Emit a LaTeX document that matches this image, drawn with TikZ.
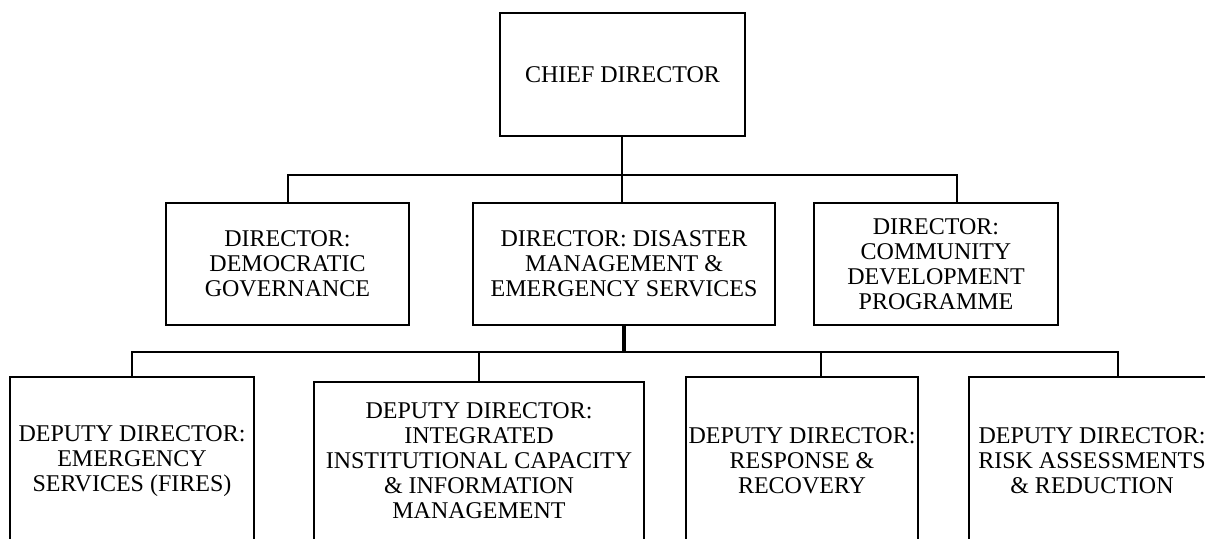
\documentclass[tikz,border=0pt]{standalone}
\usepackage{fontspec}
\setmainfont{Liberation Serif}
\begin{document}
\begin{tikzpicture}[x=0.5pt, y=-0.5pt, every node/.style={font=\fontsize{12}{12.5}\selectfont},
  box/.style={draw, line width=1.2pt, inner sep=0pt, align=center},
  link/.style={line width=1pt},
  trunk/.style={line width=2pt}]
  \useasboundingbox (0,0) rectangle (1205,539);
  \clip (0,0) rectangle (1205,539);
  \node[box, minimum width=122.5pt, minimum height=61.5pt] (chief) at (622.5,74.5) {CHIEF DIRECTOR};
  \node[box, minimum width=121.5pt, minimum height=61pt] (dg) at (287.5,264) {DIRECTOR:\\DEMOCRATIC\\GOVERNANCE};
  \node[box, minimum width=151pt, minimum height=61pt] (dm) at (624,264) {DIRECTOR: DISASTER\\MANAGEMENT \&\\EMERGENCY SERVICES};
  \node[box, minimum width=122pt, minimum height=61pt] (cd) at (936,264) {DIRECTOR:\\COMMUNITY\\DEVELOPMENT\\PROGRAMME};
  \node[box, minimum width=122pt, minimum height=84pt] (es) at (132,461) {DEPUTY DIRECTOR:\\EMERGENCY\\SERVICES (FIRES)};
  \node[box, minimum width=165pt, minimum height=79pt] (ii) at (479,461) {DEPUTY DIRECTOR:\\INTEGRATED\\INSTITUTIONAL CAPACITY\\\& INFORMATION\\MANAGEMENT};
  \node[box, minimum width=116pt, minimum height=84pt] (rr) at (802,461) {DEPUTY DIRECTOR:\\RESPONSE \&\\RECOVERY};
  \node[box, minimum width=123pt, minimum height=84pt] (ra) at (1092,461) {DEPUTY DIRECTOR:\\RISK ASSESSMENTS\\\& REDUCTION};
  \coordinate (busA) at (622,175);
  \coordinate (busB) at (624,352.5);
  \draw[link] (chief.south -| busA) -- (busA);
  \draw[link] (dg.north) |- (busA) -| ([xshift=10.5pt]cd.north);
  \draw[link] (busA) -- (busA |- dm.north);
  \draw[trunk] (dm.south) -- (busB);
  \draw[link] (es.north) |- (busB) -| ([xshift=13pt]ra.north);
  \draw[link] (ii.north) -- (ii.north |- busB);
  \draw[link] ([xshift=9.5pt]rr.north) -- ([xshift=9.5pt]rr.north |- busB);
\end{tikzpicture}
\end{document}
